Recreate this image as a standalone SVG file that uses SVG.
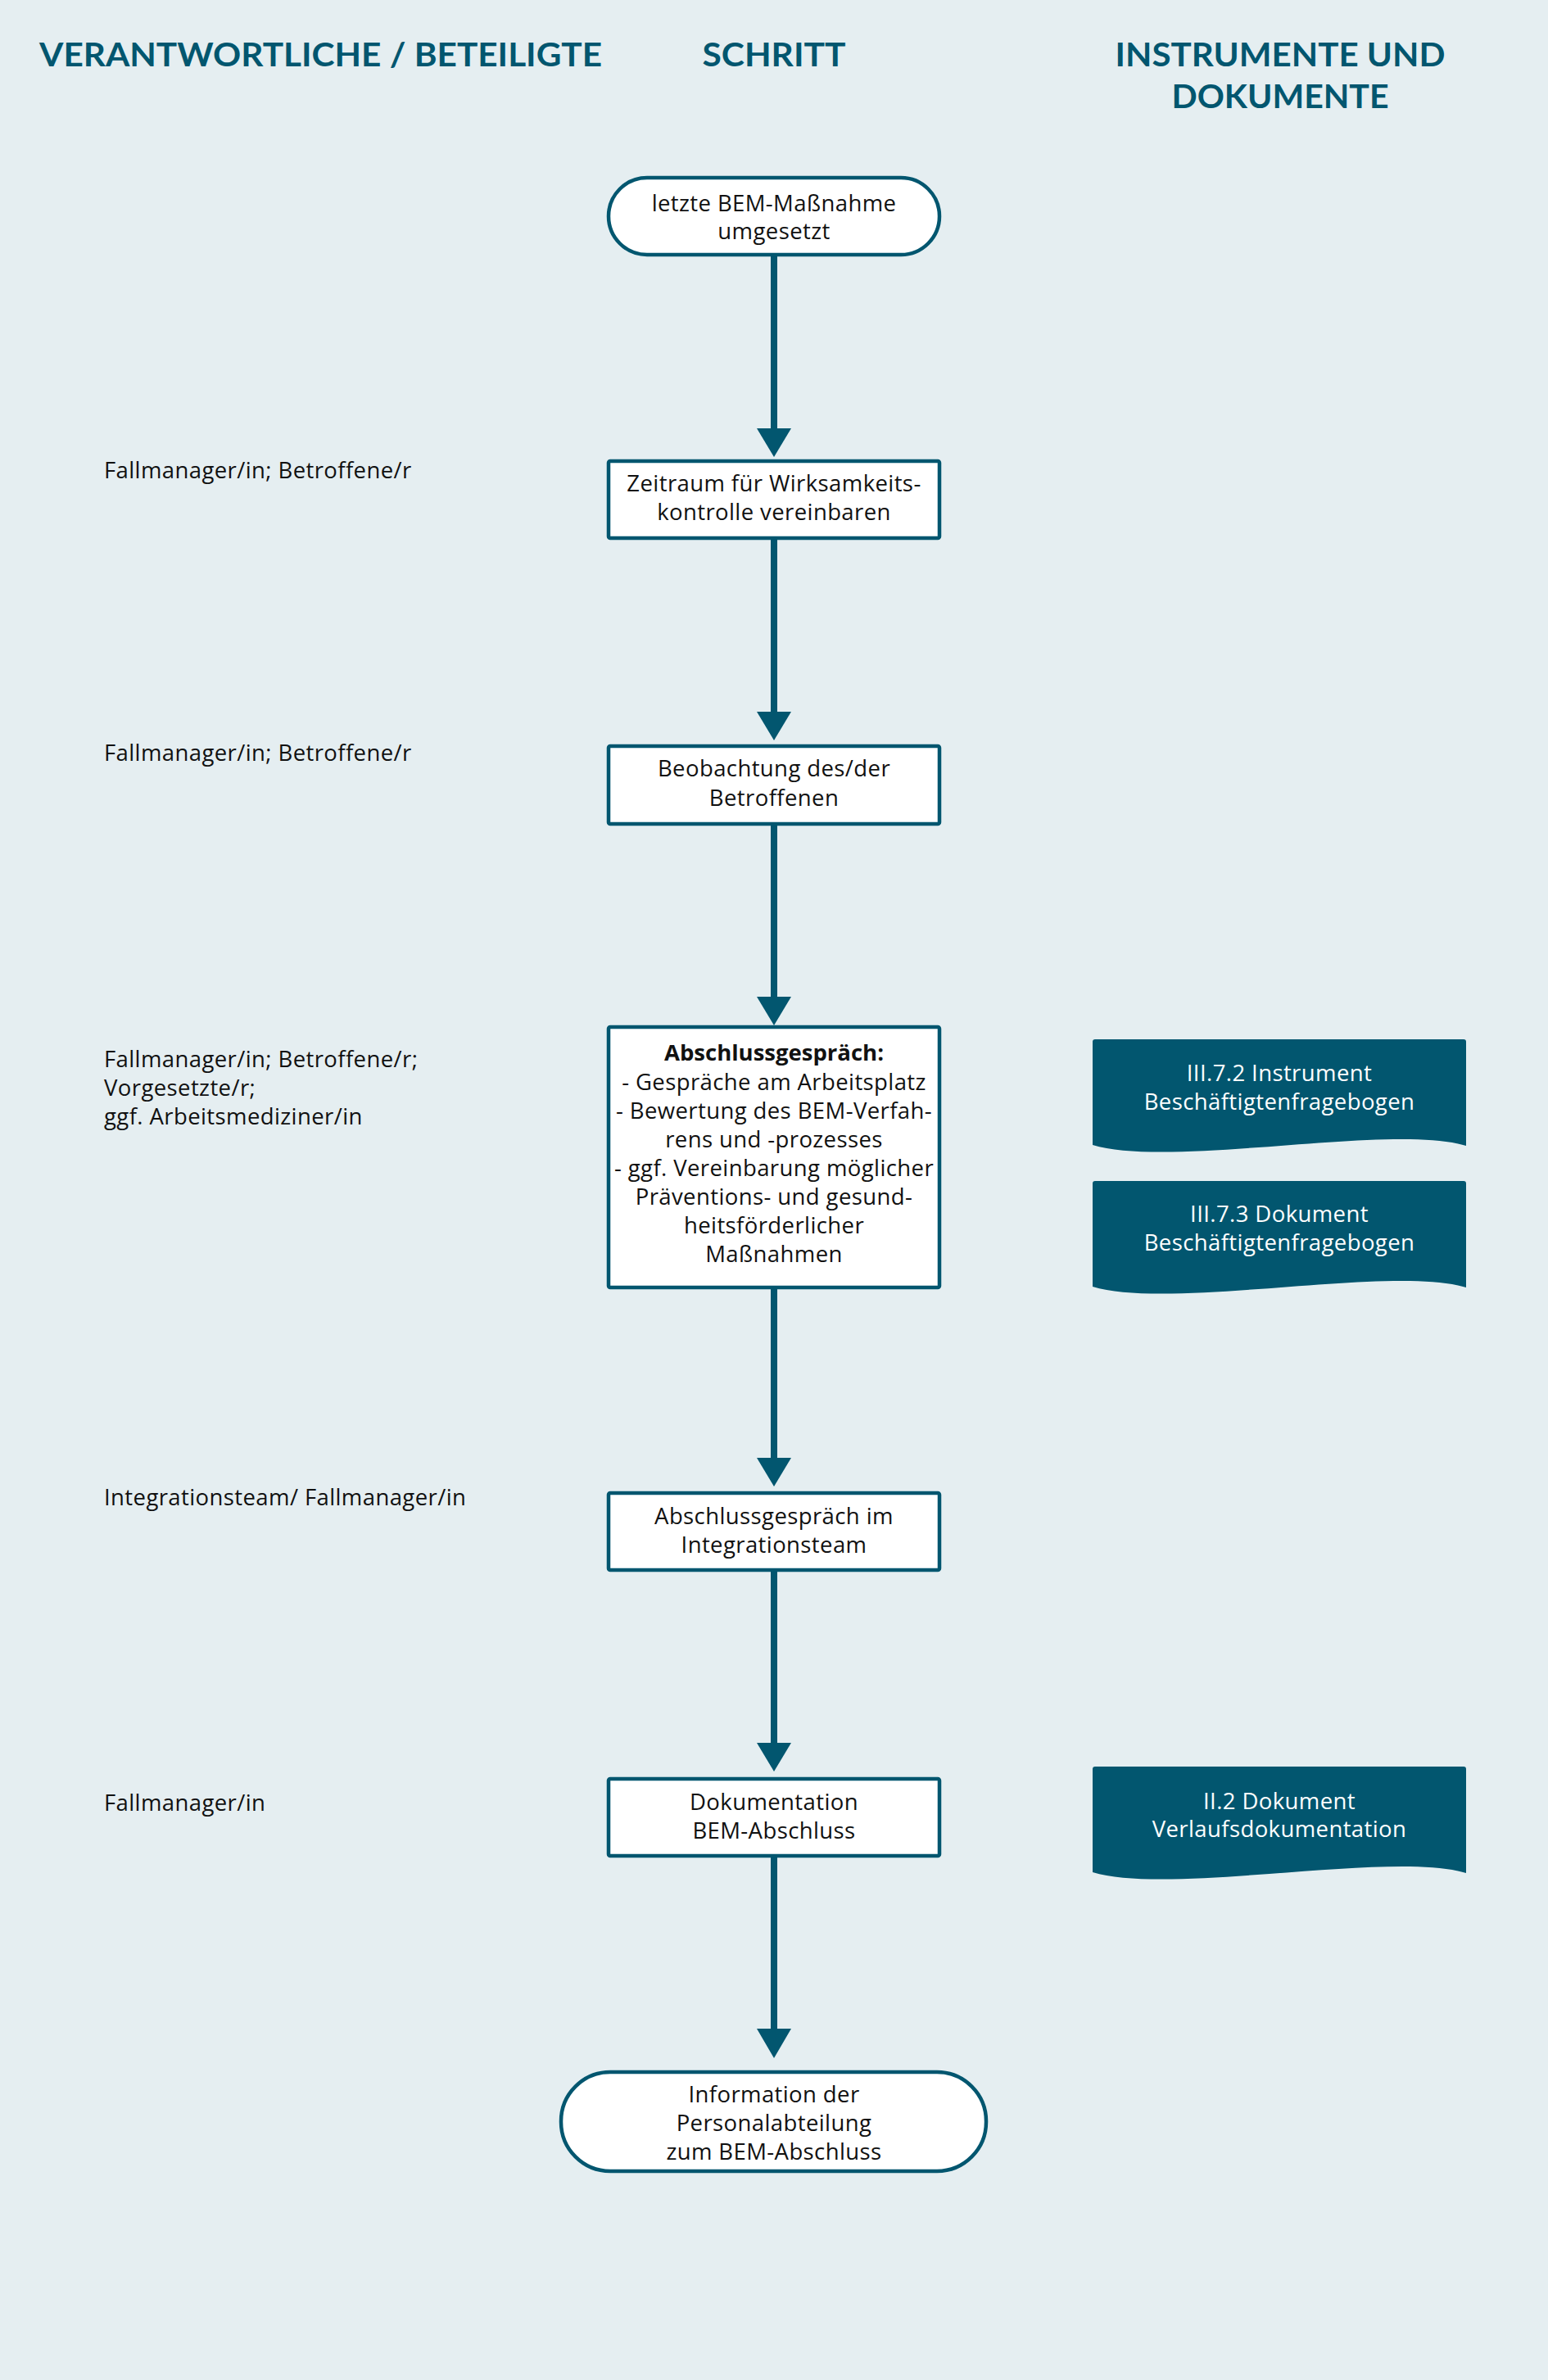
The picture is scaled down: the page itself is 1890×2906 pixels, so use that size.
<svg xmlns="http://www.w3.org/2000/svg" width="1890" height="2906" viewBox="0 0 1890 2906">
<defs>
<style>
.hdr{font-family:Lato,"Liberation Sans",sans-serif;font-weight:700;font-size:40px;fill:#02566f}
.t{font-family:"Open Sans","Liberation Sans",sans-serif;font-size:27.5px;letter-spacing:0.4px;fill:#111}
.c{text-anchor:middle}
.w{fill:#ffffff}
.b{font-weight:700;letter-spacing:0}
.box{fill:#ffffff;stroke:#02566f;stroke-width:4.5}
.doc{fill:#02566f}
.con{stroke:#02566f;stroke-width:8;stroke-linecap:round;fill:none}
.ah{fill:#02566f}
</style>
<path id="docshape" d="M0,3 Q0,0 3,0 L453,0 Q456,0 456,3 L456,130 C366,102 96,158 0,129 Z"/>
</defs>
<rect x="0" y="0" width="1890" height="2906" fill="#e5eef1"/>

<g id="headers">
<text class="hdr" x="48" y="81" textLength="687" lengthAdjust="spacingAndGlyphs">VERANTWORTLICHE / BETEILIGTE</text>
<text class="hdr c" x="945" y="81" textLength="175" lengthAdjust="spacingAndGlyphs">SCHRITT</text>
<text class="hdr c" x="1563" y="81" textLength="403" lengthAdjust="spacingAndGlyphs">INSTRUMENTE UND</text>
<text class="hdr c" x="1563" y="132" textLength="265" lengthAdjust="spacingAndGlyphs">DOKUMENTE</text>
</g>

<g id="roles">
<text class="t" x="127" y="584">Fallmanager/in; Betroffene/r</text>
<text class="t" x="127" y="929">Fallmanager/in; Betroffene/r</text>
<text class="t" x="127" y="1303">Fallmanager/in; Betroffene/r;</text>
<text class="t" x="127" y="1338">Vorgesetzte/r;</text>
<text class="t" x="127" y="1373">ggf. Arbeitsmediziner/in</text>
<text class="t" x="127" y="1838">Integrationsteam/ Fallmanager/in</text>
<text class="t" x="127" y="2211">Fallmanager/in</text>
</g>

<g id="connectors">
<line class="con" x1="945" y1="311" x2="945" y2="525"/>
<polygon class="ah" points="924,523 966,523 945,558"/>
<line class="con" x1="945" y1="657" x2="945" y2="871"/>
<polygon class="ah" points="924,869 966,869 945,904"/>
<line class="con" x1="945" y1="1006" x2="945" y2="1219"/>
<polygon class="ah" points="924,1217 966,1217 945,1252"/>
<line class="con" x1="945" y1="1572" x2="945" y2="1782"/>
<polygon class="ah" points="924,1780 966,1780 945,1815"/>
<line class="con" x1="945" y1="1917" x2="945" y2="2130"/>
<polygon class="ah" points="924,2128 966,2128 945,2163"/>
<line class="con" x1="945" y1="2266" x2="945" y2="2479"/>
<polygon class="ah" points="924,2477 966,2477 945,2513"/>
</g>

<g id="n1">
<rect class="box" x="743" y="217" width="404" height="94" rx="47"/>
<text class="t c" x="945" y="258">letzte BEM-Maßnahme</text>
<text class="t c" x="945" y="292">umgesetzt</text>
</g>

<g id="n2">
<rect class="box" x="743" y="563" width="404" height="94" rx="2"/>
<text class="t c" x="945" y="600">Zeitraum für Wirksamkeits-</text>
<text class="t c" x="945" y="635">kontrolle vereinbaren</text>
</g>

<g id="n3">
<rect class="box" x="743" y="911" width="404" height="95" rx="2"/>
<text class="t c" x="945" y="948">Beobachtung des/der</text>
<text class="t c" x="945" y="984">Betroffenen</text>
</g>

<g id="n4">
<rect class="box" x="743" y="1254" width="404" height="318" rx="2"/>
<text class="t c b" x="945" y="1295">Abschlussgespräch:</text>
<text class="t c" x="945" y="1331">- Gespräche am Arbeitsplatz</text>
<text class="t c" x="945" y="1366">- Bewertung des BEM-Verfah-</text>
<text class="t c" x="945" y="1401">rens und -prozesses</text>
<text class="t c" x="945" y="1436">- ggf. Vereinbarung möglicher</text>
<text class="t c" x="945" y="1471">Präventions- und gesund-</text>
<text class="t c" x="945" y="1506">heitsförderlicher</text>
<text class="t c" x="945" y="1541">Maßnahmen</text>
</g>

<g id="n5">
<rect class="box" x="743" y="1823" width="404" height="94" rx="2"/>
<text class="t c" x="945" y="1861">Abschlussgespräch im</text>
<text class="t c" x="945" y="1896">Integrationsteam</text>
</g>

<g id="n6">
<rect class="box" x="743" y="2172" width="404" height="94" rx="2"/>
<text class="t c" x="945" y="2210">Dokumentation</text>
<text class="t c" x="945" y="2245">BEM-Abschluss</text>
</g>

<g id="n7">
<rect class="box" x="685" y="2530" width="519" height="121" rx="60"/>
<text class="t c" x="945" y="2567">Information der</text>
<text class="t c" x="945" y="2602">Personalabteilung</text>
<text class="t c" x="945" y="2637">zum BEM-Abschluss</text>
</g>

<g id="d1">
<use href="#docshape" class="doc" x="1334" y="1269"/>
<text class="t c w" x="1562" y="1320">III.7.2 Instrument</text>
<text class="t c w" x="1562" y="1355">Beschäftigtenfragebogen</text>
</g>

<g id="d2">
<use href="#docshape" class="doc" x="1334" y="1442"/>
<text class="t c w" x="1562" y="1492">III.7.3 Dokument</text>
<text class="t c w" x="1562" y="1527">Beschäftigtenfragebogen</text>
</g>

<g id="d3">
<use href="#docshape" class="doc" x="1334" y="2157"/>
<text class="t c w" x="1562" y="2209">II.2 Dokument</text>
<text class="t c w" x="1562" y="2243">Verlaufsdokumentation</text>
</g>
</svg>
